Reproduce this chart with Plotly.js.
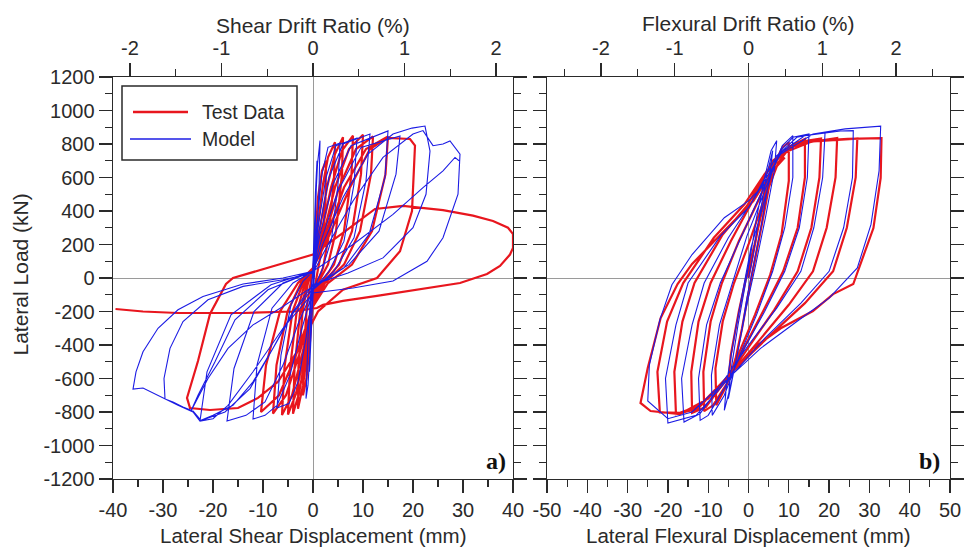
<!DOCTYPE html>
<html>
<head>
<meta charset="utf-8">
<script src="https://cdn.plot.ly/plotly-3.0.1.min.js"></script>
<style>
  html, body { margin: 0; padding: 0; background: #fff; }
  #chart { width: 965px; height: 550px; }
</style>
</head>
<body>
<div id="chart"></div>
<script>
// Wall height used to convert displacement (mm) to drift ratio (%): 1 % = 18.3 mm
const driftPerPercent = 18.3;

// Shear component: [displacement (mm), lateral load (kN)]
const shearTest = [
  [0,0],[0.4,200],[1,480],[1.8,640],[2.6,700],[2.5,460],[1.8,180],[0.8,20],[0,-120],[-0.6,-380],[-1.3,-600],[-2,-700],[-1.9,-460],[-1.2,-160],[-0.4,0],[0.2,90],
  [1,320],[2,560],[3,720],[4.4,810],[4.2,600],[3.2,260],[2,60],[0.8,-30],[0,-160],[-1,-420],[-2,-640],[-3,-780],[-2.9,-520],[-2.1,-200],[-1,-30],[0,60],
  [1.2,260],[2.8,540],[4.4,740],[6,840],[5.8,620],[4.6,280],[3,80],[1.2,-20],[0,-160],[-1.4,-450],[-2.8,-690],[-4,-810],[-3.7,-540],[-2.6,-210],[-1.2,-30],[0,60],
  [1.6,250],[3.6,540],[5.8,760],[8,850],[7.7,620],[6.2,280],[4.2,80],[1.6,-30],[0,-170],[-1.8,-460],[-3.4,-690],[-5,-815],[-4.6,-540],[-3.3,-210],[-1.6,-30],[0,60],
  [2,250],[4.4,540],[7.2,770],[10,855],[9.6,620],[7.8,280],[5.2,80],[2,-30],[0,-170],[-2.2,-460],[-4.2,-700],[-6.2,-818],[-5.7,-530],[-4.1,-200],[-2,-30],[0,60],
  [2.4,250],[5.2,540],[8.6,770],[12,845],[11.6,620],[9.4,280],[6.2,80],[2.4,-30],[0,-170],[-2.8,-460],[-5.4,-700],[-8,-810],[-7.3,-520],[-5.1,-200],[-2.4,-30],[0,60],
  [2.8,250],[6.2,540],[10.6,770],[15,845],[14.5,620],[11.8,280],[7.8,80],[3,-30],[0,-170],[-3.4,-460],[-6.8,-700],[-10.4,-800],[-9.4,-520],[-6.6,-200],[-3,-30],[0,60],
  [3.2,250],[7.4,540],[11.4,770],[14.8,836],[19.4,830],[20.4,790],[19.8,400],[17.4,160],[12.8,0],[6,-70],[1,-200],[-3,-430],[-7,-620],[-11,-716],[-15,-776],
  [-20.6,-788],[-24.6,-776],[-25.2,-716],[-23,-496],[-20.6,-215],[-17.4,-36],[-16,0],[-8,70],[0,140],[6,270],[12.4,412],[18,430],[26,405],[32,372],[36,340],
  [39,300],[40,263],[40,180],[39.4,140],[37.4,72],[34.8,24],[29.4,-30],[19.4,-78],[12.8,-107],[6,-137],[2,-160],[0.8,-179],[-4,-200],[-14,-209],[-27,-209],
  [-34,-200],[-39.5,-185]
];

const shearModel = [
  [0,0],[0.2,260],[0.5,520],[0.8,700],[0.6,420],[0.3,120],[0,-80],[-0.3,-340],[-0.7,-560],[-0.5,-260],[-0.2,-30],[0,60],
  [0.4,380],[0.9,680],[1.4,820],[1.2,520],[0.7,160],[0.1,-60],[-0.5,-400],[-1,-640],[-1.4,-720],[-1,-360],[-0.4,-60],[0,40],
  [0.8,330],[1.8,620],[3,780],[5.4,806],[5,560],[3.7,230],[1.7,40],[0,-70],[-1.4,-360],[-3,-620],[-4.8,-750],[-7.2,-776],[-6.4,-460],[-4.4,-160],[-2,-20],[0,40],
  [1,300],[2.6,600],[4.6,790],[8.8,836],[8.2,560],[6.2,220],[3.2,40],[0,-70],[-2.2,-300],[-4.6,-580],[-7.2,-760],[-9.6,-820],[-12,-842],[-11.2,-520],[-8.2,-180],[-4,-30],[0,40],
  [1.2,280],[3.2,600],[6,800],[11.4,860],[10.6,580],[8.2,240],[4.2,40],[0,-70],[-2.8,-260],[-6,-520],[-9.6,-740],[-13.4,-820],[-17.2,-854],[-15.8,-540],[-11.8,-200],[-6,-30],[0,40],
  [1.4,260],[4,560],[7.6,790],[15,878],[14.4,600],[11.2,260],[6.2,60],[0,-60],[-4,-210],[-8,-420],[-12.6,-660],[-17.6,-800],[-22.6,-854],[-21.2,-560],[-16.4,-220],[-8.4,-40],[0,40],
  [1.8,240],[5,520],[9.6,780],[17.4,848],[16.6,620],[13.2,280],[7.2,80],[0,-50],[-6,-170],[-12,-280],[-17,-420],[-21,-600],[-24.4,-794],[-23,-700],[-19.6,-500],[-15.6,-250],[-9,-70],[0,40],
  [2.2,220],[6,480],[11,740],[16,860],[19.8,895],[22.4,907],[23.4,758],[22.6,500],[20,300],[14,120],[7,30],[0,-40],[-4,-200],[-8,-420],[-12,-620],[-16,-760],
  [-20,-820],[-22.4,-850],[-24,-794],[-26,-770],[-28,-740],[-29.6,-722],[-29.8,-600],[-28.6,-420],[-26,-260],[-21,-130],[-14,-50],[-6,-10],[0,30],
  [3,200],[8,460],[14,720],[20,860],[22,880],[24,790],[26,800],[27.4,818],[29.4,740],[29,500],[26,240],[22.8,100],[16,-18],[8,-60],[0,-90],[-6,-300],
  [-12,-560],[-17,-760],[-20,-840],[-22.6,-854],[-24,-800],[-27,-760],[-29.6,-722],[-32,-690],[-34,-657],[-36,-663],[-35.4,-560],[-34,-440],[-31,-300],
  [-27,-190],[-22,-110],[-14,-36],[-6,0],[0,40],[8,200],[16,380],[22,540],[26,640],[28.4,720],[29.2,700]
];

// Flexural component: [displacement (mm), lateral load (kN)]
const flexTest = [
  [0,0],[1.5,180],[3,380],[4.5,560],[6,700],[5.2,560],[3,280],[1,40],[0,-90],[-1.6,-300],[-3.2,-480],[-5,-620],[-4.4,-460],[-2.4,-200],[-0.6,0],
  [1.5,200],[4,470],[6.4,680],[8.4,780],[10,810],[10,580],[8.2,260],[5.4,20],[1.6,-220],[-2.4,-450],[-5.6,-650],[-8,-760],[-8.2,-540],[-6.4,-260],[-3.6,-30],[0,200],
  [3.6,450],[7.4,690],[10.6,790],[14,830],[14,600],[12.2,300],[8.6,40],[3.6,-200],[-1.4,-430],[-5.6,-640],[-8.8,-760],[-11,-795],[-11.2,-560],[-9.4,-260],[-6.6,-30],[-2.4,220],
  [2.6,470],[7.4,720],[12,810],[18,832],[17.6,600],[15.6,300],[12.2,40],[6.4,-190],[0.4,-400],[-5.6,-610],[-10.6,-770],[-14,-805],[-14.2,-560],[-12.4,-260],[-9.4,-30],[-4.4,220],
  [1,460],[6,700],[12,800],[22,836],[21.6,600],[19.4,300],[16,40],[10,-160],[2.4,-380],[-5.4,-600],[-12.6,-780],[-18,-812],[-18.4,-560],[-16.4,-260],[-13.4,-30],[-6.4,260],
  [-0.4,430],[5,650],[10,780],[16,815],[27,832],[26.6,600],[24.4,300],[21,40],[14,-150],[5,-350],[-4,-560],[-12,-760],[-17,-805],[-22,-802],[-22.6,-560],[-20.2,-260],[-16.2,-30],[-8.6,240],
  [-1,440],[4,620],[8,740],[16,818],[24.6,830],[33,835],[32.8,597],[31,298],[26,-36],[21,-96],[16,-197],[8,-300],[1.2,-418],[-4,-560],[-10,-720],[-17,-812],
  [-24.3,-794],[-26.8,-746],[-25,-537],[-21.8,-239],[-17.6,-36],[-14,84],[-5.2,300],[1.2,460],[6,640],[9,720]
];

const flexModel = [
  [0,0],[1,120],[2.2,300],[3.4,460],[4.6,620],[6,760],[5.2,600],[3.2,320],[1,60],[-0.4,-120],[-2,-360],[-3.6,-560],[-5,-720],[-4.4,-560],[-2.6,-280],[-0.8,-40],[0.4,120],
  [2,360],[4,600],[5.6,760],[7,820],[6.4,640],[4.2,360],[1.8,80],[-0.6,-180],[-2.8,-460],[-4.6,-660],[-6,-790],[-5.4,-620],[-3.4,-330],[-1.2,-60],[0.6,180],
  [3,380],[6,650],[8.4,790],[11,850],[11,600],[9,300],[6,40],[2,-220],[-2,-450],[-6,-700],[-9,-820],[-9.2,-580],[-7.2,-280],[-4.2,-40],[-0.4,250],
  [4,520],[8,760],[11,840],[15,860],[14.6,600],[12.6,300],[9,40],[4,-200],[-1,-420],[-6,-660],[-10,-820],[-12,-850],[-12.4,-600],[-10.4,-280],[-7,-30],[-2,240],
  [3,500],[8,750],[12,840],[19,870],[18.4,600],[16.2,300],[13,40],[7,-180],[0,-400],[-7,-640],[-12,-810],[-16,-860],[-16.6,-600],[-14,-280],[-11,-30],[-5,240],
  [1,460],[7,730],[14,850],[22.8,878],[26,880],[25.8,600],[23.6,300],[20,40],[13,-150],[4,-360],[-5,-600],[-13,-820],[-20,-866],[-20.6,-600],[-18,-280],[-15,-30],[-7,250],
  [0,420],[8,740],[16,860],[24,890],[32.8,907],[32.4,640],[30.4,320],[27,60],[20,-120],[12,-260],[3,-420],[-6,-620],[-14,-800],[-20,-840],[-25,-734],
  [-24.6,-520],[-22,-250],[-19,-40],[-14,140],[-6,360],[0,460],[4,560]
];

// Tick values (labels use a plain hyphen for negatives)
const shearTicks = [-40, -30, -20, -10, 0, 10, 20, 30, 40];
const flexTicks = [-50, -40, -30, -20, -10, 0, 10, 20, 30, 40, 50];
const driftTicks = [-2, -1, 0, 1, 2];
const loadTicks = [-1200, -1000, -800, -600, -400, -200, 0, 200, 400, 600, 800, 1000, 1200];

const shearRange = [-40, 40];
const flexRange = [-50, 50];
const loadRange = [-1200, 1200];

const RED = 'rgb(232,22,30)';
const BLUE = 'rgb(28,28,228)';
const INK = '#2a2a2a';
const FONT = 'Liberation Sans, Arial, sans-serif';
const SERIF = 'Liberation Serif, Times New Roman, serif';

const xs = pts => pts.map(p => p[0]);
const ys = pts => pts.map(p => p[1]);
const lbl = v => String(v);

const traces = [
  { x: xs(shearTest), y: ys(shearTest), xaxis: 'x', yaxis: 'y', mode: 'lines', name: 'Test Data',
    showlegend: false, line: { color: RED, width: 2.2 } },
  { x: xs(shearModel), y: ys(shearModel), xaxis: 'x', yaxis: 'y', mode: 'lines', name: 'Model',
    showlegend: false, line: { color: BLUE, width: 1.1 } },
  { x: xs(flexTest), y: ys(flexTest), xaxis: 'x2', yaxis: 'y2', mode: 'lines', name: 'Test Data',
    showlegend: false, line: { color: RED, width: 2.2 } },
  { x: xs(flexModel), y: ys(flexModel), xaxis: 'x2', yaxis: 'y2', mode: 'lines', name: 'Model',
    showlegend: false, line: { color: BLUE, width: 1.1 } },
  // empty traces so the drift-ratio axes on top are drawn
  { x: [], y: [], xaxis: 'x3', yaxis: 'y', showlegend: false, hoverinfo: 'skip' },
  { x: [], y: [], xaxis: 'x4', yaxis: 'y2', showlegend: false, hoverinfo: 'skip' }
];

const W = 965, H = 550;
const px = v => v / W;          // horizontal pixel -> paper fraction
const py = v => 1 - v / H;      // vertical pixel (from top) -> paper fraction

const leftDom = [px(113), px(513)];
const rightDom = [px(547), px(950)];
const yDom = [py(479), py(77)];

const tickBase = {
  ticks: 'outside', ticklen: 13, tickwidth: 1.4, tickcolor: INK,
  showline: true, linecolor: INK, linewidth: 1.4,
  showgrid: false, zeroline: false,
  tickfont: { family: FONT, size: 20, color: INK },
  tickmode: 'array',
  fixedrange: true
};
const minorBase = { ticks: 'outside', ticklen: 7, tickwidth: 1.2, tickcolor: INK, showgrid: false };
const zeroBase = { zeroline: true, zerolinecolor: '#9a9a9a', zerolinewidth: 1 };

const titleFont = { size: 21, family: FONT, color: INK };
const note = (text, x, y, extra) => Object.assign({
  text, xref: 'paper', yref: 'paper', x: px(x), y: py(y),
  xanchor: 'center', yanchor: 'middle', showarrow: false, font: titleFont
}, extra || {});

const layout = {
  width: W, height: H,
  margin: { l: 0, r: 0, t: 0, b: 0 },
  paper_bgcolor: '#fff', plot_bgcolor: '#fff',
  font: { family: FONT, color: INK },
  showlegend: false,
  xaxis: Object.assign({}, tickBase, zeroBase, {
    domain: leftDom, anchor: 'y', range: shearRange,
    tickvals: shearTicks, ticktext: shearTicks.map(lbl),
    minor: Object.assign({ dtick: 5, tick0: 0, tickmode: 'linear' }, minorBase)
  }),
  xaxis3: Object.assign({}, tickBase, {
    overlaying: 'x', side: 'top', anchor: 'y',
    range: shearRange.map(v => v / driftPerPercent),
    tickvals: driftTicks, ticktext: driftTicks.map(lbl),
    minor: Object.assign({ dtick: 0.5, tick0: 0, tickmode: 'linear' }, minorBase)
  }),
  yaxis: Object.assign({}, tickBase, zeroBase, {
    domain: yDom, anchor: 'x', range: loadRange, mirror: 'ticks',
    tickvals: loadTicks, ticktext: loadTicks.map(lbl),
    minor: Object.assign({ dtick: 100, tick0: 0, tickmode: 'linear' }, minorBase)
  }),
  xaxis2: Object.assign({}, tickBase, zeroBase, {
    domain: rightDom, anchor: 'y2', range: flexRange,
    tickvals: flexTicks, ticktext: flexTicks.map(lbl),
    minor: Object.assign({ dtick: 5, tick0: 0, tickmode: 'linear' }, minorBase)
  }),
  xaxis4: Object.assign({}, tickBase, {
    overlaying: 'x2', side: 'top', anchor: 'y2',
    range: flexRange.map(v => v / driftPerPercent),
    tickvals: driftTicks, ticktext: driftTicks.map(lbl),
    minor: Object.assign({ dtick: 0.5, tick0: 0, tickmode: 'linear' }, minorBase)
  }),
  yaxis2: Object.assign({}, tickBase, zeroBase, {
    domain: yDom, anchor: 'x2', range: loadRange, mirror: 'ticks',
    tickvals: loadTicks, showticklabels: false,
    minor: Object.assign({ dtick: 100, tick0: 0, tickmode: 'linear' }, minorBase)
  }),
  // legend box with its two line samples
  shapes: [
    { type: 'rect', xref: 'paper', yref: 'paper', x0: px(122), x1: px(297), y0: py(160), y1: py(86),
      line: { color: INK, width: 1.5 }, fillcolor: '#fff', layer: 'above' },
    { type: 'line', xref: 'paper', yref: 'paper', x0: px(133), x1: px(188), y0: py(112), y1: py(112),
      line: { color: RED, width: 2.4 }, layer: 'above' },
    { type: 'line', xref: 'paper', yref: 'paper', x0: px(130), x1: px(191), y0: py(139), y1: py(139),
      line: { color: BLUE, width: 1.4 }, layer: 'above' }
  ],
  annotations: [
    note('Test Data', 200, 112, { xanchor: 'left', font: { size: 19.5, family: FONT, color: INK } }),
    note('Model', 200, 139, { xanchor: 'left', font: { size: 19.5, family: FONT, color: INK } }),
    note('Shear Drift Ratio (%)', 313, 26),
    note('Flexural Drift Ratio (%)', 748, 23),
    note('Lateral Shear Displacement (mm)', 313, 535, { font: { size: 20.5, family: FONT, color: INK } }),
    note('Lateral Flexural Displacement (mm)', 748, 535, { font: { size: 20.5, family: FONT, color: INK } }),
    note('Lateral Load (kN)', 19.5, 275, { textangle: -90 }),
    note('<b>a)</b>', 496, 461, { font: { size: 24, family: SERIF, color: '#111' } }),
    note('<b>b)</b>', 929, 461, { font: { size: 24, family: SERIF, color: '#111' } })
  ]
};

Plotly.newPlot('chart', traces, layout, { staticPlot: true, displayModeBar: false });
</script>
</body>
</html>
